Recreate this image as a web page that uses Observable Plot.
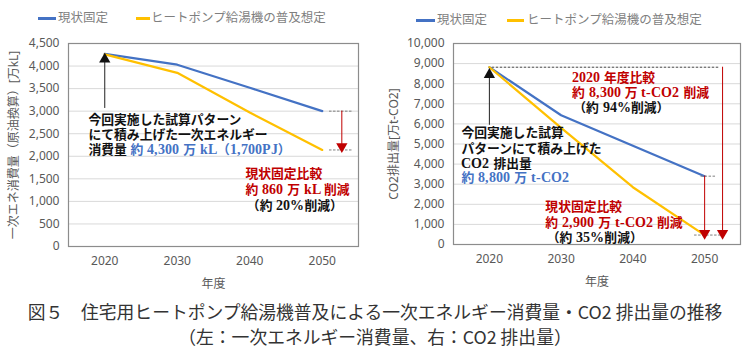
<!DOCTYPE html>
<html><head><meta charset="utf-8">
<script src="https://cdn.jsdelivr.net/npm/d3@7"></script>
<script src="https://cdn.jsdelivr.net/npm/@observablehq/plot@0.6"></script>
<style>
@font-face{font-family:"NumSerif";src:local("Liberation Serif Bold"),local("LiberationSerif-Bold");size-adjust:108%;font-weight:100 900;unicode-range:U+0020-007E;}
body{margin:0;background:#fff;}
#wrap{position:relative;width:750px;height:358px;overflow:hidden;background:#fff;font-family:"Noto Sans CJK JP","Noto Sans",sans-serif;}
.panel{position:absolute;top:0;}
.leg{position:absolute;font-size:12.5px;color:#7f7f7f;white-space:nowrap;line-height:1;}
.legline{position:absolute;height:2.5px;}
#cap{position:absolute;left:0;top:299px;width:750px;text-align:center;color:#333;font-size:17.8px;line-height:25px;font-family:"Noto Sans CJK JP",sans-serif;}
</style></head>
<body>
<div id="wrap">
  <div id="left" class="panel" style="left:0"></div>
  <div id="right" class="panel" style="left:375px"></div>
  <div id="cap"></div>
</div>
<script>
// ---- data ----
const years = [2020, 2030, 2040, 2050];
const seriesNames = ["現状固定", "ヒートポンプ給湯機の普及想定"];
const seriesColors = ["#4472C4", "#FFC000"];
const energyBase = [4270, 4030, 3520, 3000];
const energyHP = [4260, 3850, 2970, 2140];
const co2Base = [8820, 6430, 4910, 3400];
const co2HP = [8820, 5800, 2850, 470];
const energyTicks = [0, 500, 1000, 1500, 2000, 2500, 3000, 3500, 4000, 4500];
const co2Ticks = [0, 1000, 2000, 3000, 4000, 5000, 6000, 7000, 8000, 9000, 10000];
const captionLines = ["図５　住宅用ヒートポンプ給湯機普及による一次エネルギー消費量・CO2 排出量の推移", "（左：一次エネルギー消費量、右：CO2 排出量）"];

const RED = "#C00000", BLUE = "#4472C4", GRAY = "#595959";
const AF = "NumSerif, Noto Sans CJK JP, serif";

function table(a, b) {
  return years.flatMap((yr, i) => [
    {year: yr, value: a[i], series: seriesNames[0]},
    {year: yr, value: b[i], series: seriesNames[1]}
  ]);
}

function baseMarks(ticks, ylabel, labelOffset) {
  return [
    Plot.gridY(ticks.filter(t => t > 0), {stroke: "#d9d9d9", strokeOpacity: 1}),
    Plot.axisY(ticks, {tickSize: 0, tickPadding: 9, tickFormat: d3.format(","), fontSize: 12, fill: GRAY,
      label: ylabel, labelAnchor: "center", labelArrow: "none", labelOffset}),
    Plot.axisX(years, {tickSize: 0, tickPadding: 10, tickFormat: d => String(d), fontSize: 12, fill: GRAY,
      label: "年度", labelAnchor: "center", labelArrow: "none", labelOffset: 41}),
    Plot.frame({stroke: "#8c8c8c", strokeWidth: 1.2})
  ];
}
function lineMarks(data) {
  return Plot.line(data, {x: "year", y: "value", z: "series",
    stroke: d => seriesColors[seriesNames.indexOf(d.series)], strokeWidth: 2.2});
}
function note(x, y, text, fill, extra = {}) {
  return Plot.text([text], {x: () => x, y: () => y, text: d => d, textAnchor: "start", fill,
    fontSize: 12.8, fontFamily: AF, fontWeight: 700, ...extra});
}
function dash(y, x1, x2, stroke = "#7f7f7f") {
  return Plot.ruleY([y], {x1: () => x1, x2: () => x2, stroke, strokeDasharray: "2.5,1.5", strokeWidth: 1});
}
function downArrow(x, y1, y2) {
  return [
    Plot.ruleX([x], {y1: () => y1, y2: () => y2, stroke: RED, strokeWidth: 1}),
    Plot.dot([x], {x: d => d, y: () => y2, symbol: "triangle", rotate: 180, r: 4.2, fill: RED, stroke: "none"})
  ];
}
function upArrow(x, y1, y2) {
  return [
    Plot.ruleX([x], {y1: () => y1, y2: () => y2, stroke: "#222", strokeWidth: 1}),
    Plot.dot([x], {x: d => d, y: () => y2, symbol: "triangle", r: 4.2, fill: "#111", stroke: "none"})
  ];
}

const common = {
  width: 375, height: 290, marginTop: 43,
  style: {fontFamily: "Noto Sans, Noto Sans CJK JP, sans-serif", fontSize: "12px", background: "transparent"}
};

// ---- left chart ----
const left = Plot.plot({
  ...common, marginLeft: 68, marginRight: 17, marginBottom: 44,
  x: {domain: [2015, 2055]},
  y: {domain: [0, 4500]},
  marks: [
    ...baseMarks(energyTicks, "一次エネ消費量（原油換算）[万kL]", 59),
    lineMarks(table(energyBase, energyHP)),
    dash(energyBase[3], 2051.0, 2054.3),
    dash(energyHP[3], 2051.0, 2054.3),
    ...downArrow(2052.7, energyBase[3], 2215),
    ...upArrow(2020, 3060, 4150),
    note(2017.75, 2810, "今回実施した試算パターン", "#111"),
    note(2017.75, 2475, "にて積み上げた一次エネルギー", "#111"),
    note(2017.75, 2145, "消費量", "#111"),
    note(2017.75, 2145, "約 4,300 万 kL（1,700PJ）", BLUE, {dx: 42}),
    note(2039.4, 1600, "現状固定比較", RED),
    note(2039.4, 1245, "約 860 万 kL 削減", RED),
    note(2039.6, 905, "（約 20%削減）", "#111")
  ]
});
document.getElementById("left").appendChild(left);

// ---- right chart ----
const right = Plot.plot({
  ...common, marginLeft: 78, marginRight: 10, marginBottom: 46,
  x: {domain: [2015, 2055]},
  y: {domain: [0, 10000]},
  marks: [
    ...baseMarks(co2Ticks, "CO2排出量[万t-CO2]", 64),
    lineMarks(table(co2Base, co2HP)),
    dash(co2Base[0], 2020.4, 2052.1, "#444"),
    dash(co2Base[3], 2049.5, 2051.6),
    dash(co2HP[3], 2048.6, 2052.3),
    ...downArrow(2050, co2Base[3], 560),
    ...downArrow(2052.5, co2Base[0], 560),
    ...upArrow(2020, 5930, 8450),
    note(2016.1, 5530, "今回実施した試算", "#111"),
    note(2016.1, 4770, "パターンにて積み上げた", "#111"),
    note(2016.1, 4020, "CO2 排出量", "#111"),
    note(2016.1, 3290, "約 8,800 万 t-CO2", BLUE),
    note(2031.5, 8300, "2020 年度比較", RED),
    note(2031.5, 7560, "約 8,300 万 t-CO2 削減", RED),
    note(2031.7, 6810, "（約 94%削減）", "#111"),
    note(2027.8, 1850, "現状固定比較", RED),
    note(2027.8, 1090, "約 2,900 万 t-CO2 削減", RED),
    note(2028.0, 320, "（約 35%削減）", "#111")
  ]
});
document.getElementById("right").appendChild(right);

// ---- legends (HTML) ----
const wrap = document.getElementById("wrap");
function legend(items) {
  items.forEach(it => {
    const ln = document.createElement("div");
    ln.className = "legline";
    ln.style.cssText = `left:${it.lx}px;top:${it.y - 1}px;width:${it.lw}px;background:${it.color}`;
    wrap.appendChild(ln);
    const t = document.createElement("div");
    t.className = "leg";
    t.textContent = it.name;
    t.style.left = it.tx + "px";
    t.style.top = (it.y - 7) + "px";
    wrap.appendChild(t);
  });
}
legend([
  {name: seriesNames[0], color: seriesColors[0], lx: 38, lw: 18, tx: 58, y: 18},
  {name: seriesNames[1], color: seriesColors[1], lx: 136, lw: 14, tx: 151, y: 18},
  {name: seriesNames[0], color: seriesColors[0], lx: 416, lw: 19, tx: 437, y: 20},
  {name: seriesNames[1], color: seriesColors[1], lx: 507, lw: 17, tx: 527, y: 20}
]);

document.getElementById("cap").innerHTML = captionLines.map(s => `<div>${s}</div>`).join("");
</script>
</body></html>
